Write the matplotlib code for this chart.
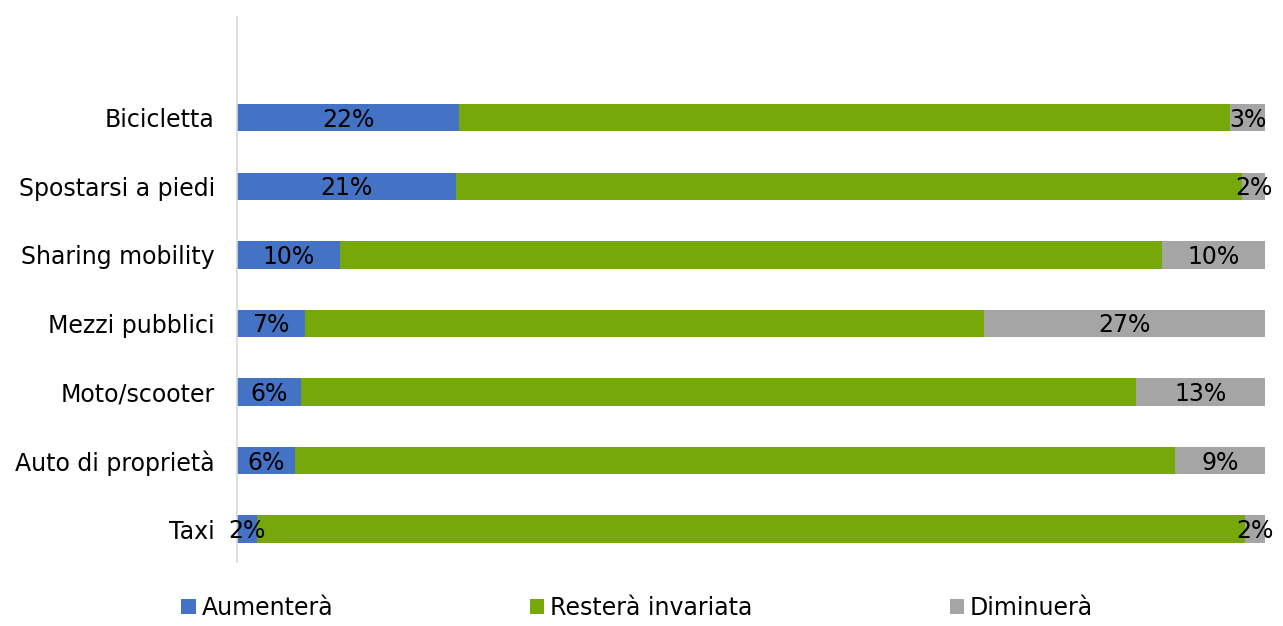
import matplotlib
matplotlib.use("Agg")
import matplotlib.pyplot as plt
from matplotlib.patches import Patch

categories = ["Taxi", "Auto di proprietà", "Moto/scooter", "Mezzi pubblici",
              "Sharing mobility", "Spostarsi a piedi", "Bicicletta"]
aumentera = [1.9, 5.6, 6.2, 6.6, 10.0, 21.3, 21.6]
restera = [96.2, 85.6, 81.29, 66.1, 80.0, 76.5, 75.0]
diminuera = [1.9, 8.8, 12.51, 27.3, 10.0, 2.2, 3.4]
series_names = ["Aumenterà", "Resterà invariata", "Diminuerà"]
colors = ["#4472C4", "#77A80A", "#A5A5A5"]

plt.rcParams['font.family'] = ['DejaVu Sans']
FS = 17
fig = plt.figure(figsize=(12.83, 6.26), dpi=100)
ax = fig.add_axes([237/1283, 1 - 562/626, (1265-237)/1283, (562-17)/626])

y = list(range(len(categories)))
h = 0.4
ax.barh(y, aumentera, height=h, color=colors[0])
left2 = aumentera
ax.barh(y, restera, left=left2, height=h, color=colors[1])
left3 = [a + r for a, r in zip(aumentera, restera)]
ax.barh(y, diminuera, left=left3, height=h, color=colors[2])

for i in y:
    ax.text(aumentera[i] / 2, i - 0.03, f"{round(aumentera[i])}%", ha="center", va="center",
            fontsize=FS, color="black")
    ax.text(left3[i] + diminuera[i] / 2, i - 0.03, f"{round(diminuera[i])}%", ha="center",
            va="center", fontsize=FS, color="black")

ax.set_xlim(0, 100)
ax.set_ylim(-0.48, 6 + 1.47)
ax.set_yticks(y)
ax.set_yticklabels(categories, fontsize=FS)
ax.tick_params(axis="y", length=0, pad=16)
ax.set_xticks([])
for s in ["top", "right", "bottom"]:
    ax.spines[s].set_visible(False)
ax.spines["left"].set_color("#D9D9D9")
ax.spines["left"].set_linewidth(1.2)

handles = [Patch(facecolor=c, edgecolor="none") for c in colors]
fig.legend(handles, series_names, loc="lower left", bbox_to_anchor=(172/1283, -0.006),
           ncol=3, frameon=False, fontsize=FS, handlelength=0.6, handleheight=0.6,
           handletextpad=0.25, columnspacing=8.35, borderaxespad=0)

fig.savefig("out.png", dpi=100)
